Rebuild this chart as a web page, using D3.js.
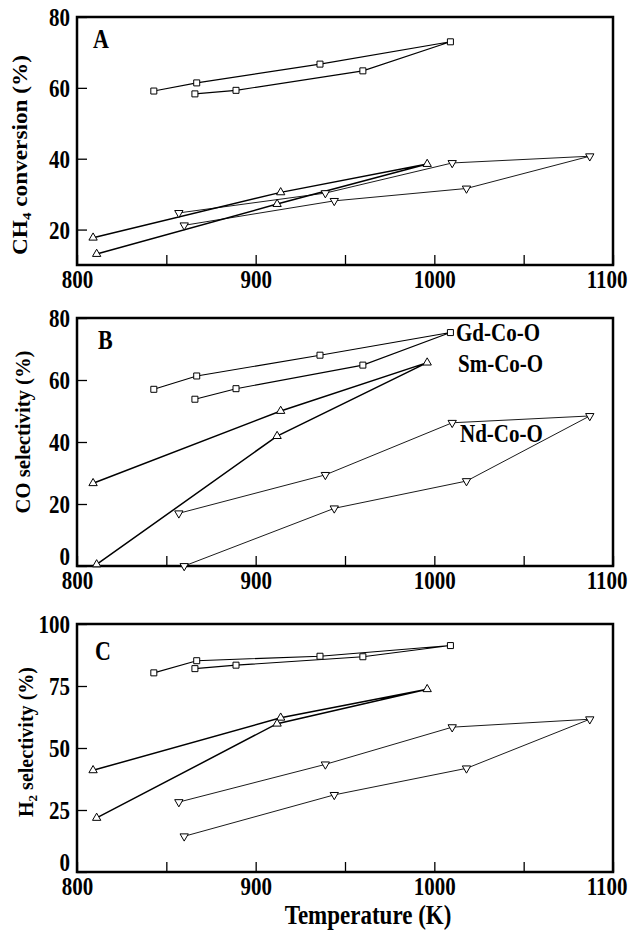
<!DOCTYPE html>
<html>
<head>
<meta charset="utf-8">
<script src="https://cdn.jsdelivr.net/npm/d3@7"></script>
<style>
body{margin:0;background:#fff;}
text{font-family:"Liberation Serif","Times New Roman",serif;font-weight:bold;fill:#000;}
.frame{fill:none;stroke:#000;stroke-width:2.5px;}
.tick line{stroke:#000;stroke-width:1.3px;}
.link{fill:none;stroke:#000;}
.mark{fill:#fff;stroke:#000;stroke-width:1px;}
</style>
</head>
<body>
<svg id="fig" width="630" height="937"></svg>
<script>
// temperatures (K), in the order the points were measured
var gdT = [843, 867, 936, 1009, 960, 889, 866];
var smT = [809, 914, 996, 912, 811];
var ndT = [857, 939, 1010, 1087, 1018, 944, 860];

// A: CH4 conversion (%)
var gdA = [59.1, 61.4, 66.7, 73.0, 64.8, 59.3, 58.3];
var smA = [17.7, 30.5, 38.5, 27.2, 13.1];
var ndA = [24.7, 30.3, 38.8, 40.7, 31.6, 28.1, 21.2];
// B: CO selectivity (%)
var gdB = [57.0, 61.3, 68.0, 75.3, 64.8, 57.2, 53.8];
var smB = [26.7, 50.0, 65.6, 41.9, 0.5];
var ndB = [17.0, 29.4, 46.2, 48.4, 27.4, 18.6, 0];
// C: H2 selectivity (%)
var gdC = [80.3, 85.2, 87.0, 91.3, 86.8, 83.4, 82.0];
var smC = [41.0, 62.2, 73.7, 59.8, 21.8];
var ndC = [28.2, 43.4, 58.4, 61.6, 41.8, 31.1, 14.4];

var xTicks = [800, 850, 900, 950, 1000, 1050, 1100];
var yTicksA = [20, 40, 60, 80];
var yTicksB = [0, 20, 40, 60, 80];
var yTicksC = [0, 25, 50, 75, 100];

var SY = 1.2; // the scan is stretched vertically
var W = 536, H = 248, L = 77;

var panels = [
	{letter:"A", top:17, dom:[10,80], ticks:yTicksA, gd:gdA, sm:smA, nd:ndA,
	 title:["CH","4"," conversion (%)"], tx:27, ty:155, tlen:200, lx:16, ly:31},
	{letter:"B", top:318, dom:[0,80], ticks:yTicksB, gd:gdB, sm:smB, nd:ndB,
	 title:["CO selectivity (%)"], tx:30, ty:432, tlen:163, lx:21, ly:31},
	{letter:"C", top:624, dom:[0,100], ticks:yTicksC, gd:gdC, sm:smC, nd:ndC,
	 title:["H","2"," selectivity (%)"], tx:33, ty:742, tlen:150, lx:18, ly:36}
];

var svg = d3.select("#fig");
var x = d3.scaleLinear().domain([800,1100]).range([0,W]);

panels.forEach(function(p){
	var g = svg.append("g").attr("transform","translate("+L+","+p.top+")");
	var y = d3.scaleLinear().domain(p.dom).range([H,0]);

	var xa = g.append("g").attr("transform","translate(0,"+H+")")
		.call(d3.axisBottom(x).tickValues(xTicks).tickSizeInner(-10).tickSizeOuter(0)
			.tickFormat(function(d){ return d%100===0 ? d : ""; }));
	xa.select(".domain").remove();
	xa.selectAll("text").attr("y",null).attr("dy",null)
		.attr("text-anchor",function(d){ return d===1100 ? "end" : "middle"; })
		.attr("transform",function(d){
			return "translate("+(d===1100 ? 14 : 0)+",23) scale(1,"+SY+")";
		})
		.style("font-size","21px");

	var ya = g.append("g")
		.call(d3.axisLeft(y).tickValues(p.ticks).tickSizeInner(-10).tickSizeOuter(0));
	ya.select(".domain").remove();
	ya.selectAll("text").attr("x",null).attr("dy",null)
		.attr("transform",function(d){
			return "translate(-7,"+(d===0 ? -2 : 8.5)+") scale(1,"+SY+")";
		})
		.style("font-size","21px");

	g.append("rect").attr("class","frame").attr("width",W).attr("height",H);

	var line = d3.line().x(function(d){return x(d[0]);}).y(function(d){return y(d[1]);});
	var series = [
		{t:gdT, v:p.gd, sym:d3.symbolSquare, size:36, rot:0, w:1.1},
		{t:smT, v:p.sm, sym:d3.symbolTriangle, size:30, rot:0, w:1.5},
		{t:ndT, v:p.nd, sym:d3.symbolTriangle, size:30, rot:180, w:0.9}
	];
	series.forEach(function(s){
		var pts = s.t.map(function(t,i){ return [t, s.v[i]]; });
		g.append("path").attr("class","link").attr("d",line(pts)).style("stroke-width",s.w);
		g.selectAll(null).data(pts).enter().append("path").attr("class","mark")
			.attr("d",d3.symbol().type(s.sym).size(s.size))
			.attr("transform",function(d){ return "translate("+x(d[0])+","+y(d[1])+") rotate("+s.rot+")"; });
	});

	g.append("text").attr("transform","translate("+p.lx+","+p.ly+") scale(1,"+SY+")")
		.style("font-size","22px").text(p.letter);

	var t = svg.append("text")
		.attr("transform","translate("+p.tx+","+p.ty+") rotate(-90)")
		.attr("text-anchor","middle").style("font-size","20px")
		.attr("textLength",p.tlen).attr("lengthAdjust","spacingAndGlyphs");
	p.title.forEach(function(s,i){
		var ts = t.append("tspan").text(s);
		if (i===1) ts.style("font-size","13px").attr("dy",4);
		if (i===2) ts.attr("dy",-4);
	});

	if (p.letter==="B") {
		var names = [["Gd-Co-O",379,23],["Sm-Co-O",381,54],["Nd-Co-O",383,124]];
		names.forEach(function(n){
			g.append("text").attr("transform","translate("+n[1]+","+n[2]+") scale(1,"+SY+")")
				.style("font-size","21px").text(n[0]);
		});
	}
});

svg.append("text").attr("transform","translate(368,924) scale(1,"+SY+")")
	.attr("text-anchor","middle").style("font-size","23px").text("Temperature (K)");
</script>
</body>
</html>
